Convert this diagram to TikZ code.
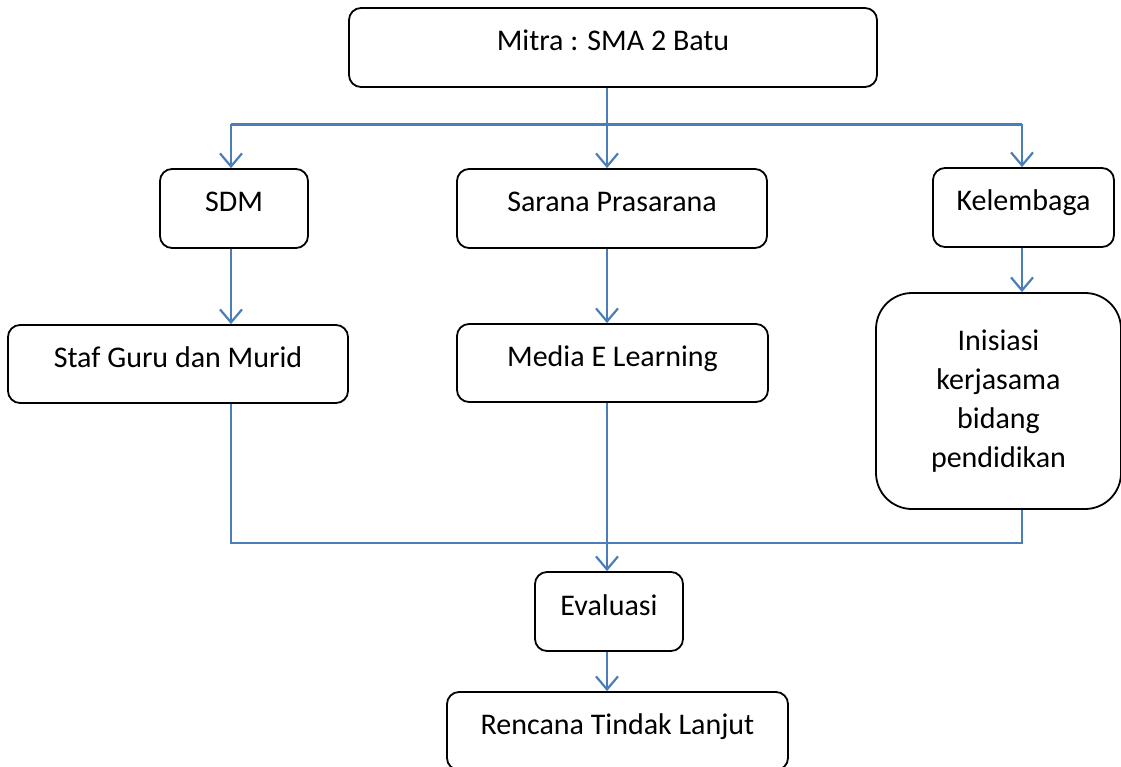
\documentclass[tikz,border=0pt]{standalone}
\usepackage{fontspec}
\setmainfont{Carlito}
\usepackage{tikz}
\usetikzlibrary{arrows.meta}
\definecolor{lineBlue}{HTML}{4A7EBB}

\tikzset{
  box/.style={draw=black, line width=1.8pt, rounded corners=12pt, inner sep=0pt,
    font=\fontsize{30}{39}\selectfont, text height=19pt, text depth=12pt},
  bigbox/.style={draw=black, line width=1.8pt, rounded corners=36pt, inner sep=0pt,
    align=center, font=\fontsize{30}{39}\selectfont},
  link/.style={draw=lineBlue, line width=2.2pt},
  arr/.style={link, -{Straight Barb[length=13pt, width=22pt, line width=2.2pt]}}
}

\begin{document}
\begin{tikzpicture}[x=1pt, y=-1pt]
    \useasboundingbox (0,0) rectangle (1121,767);
    \fill[white] (0,0) rectangle (1121,767);
    % boxes, pixel coordinates of the centres
    \node[box, minimum width=528pt, minimum height=79pt] (mitra) at (613,47.5) {Mitra : SMA 2 Batu};
    \node[box, minimum width=148pt, minimum height=79pt] (sdm) at (234,208.5) {SDM};
    \node[box, minimum width=310pt, minimum height=79pt] (sarana) at (612,208.5) {Sarana Prasarana};
    \node[box, minimum width=181pt, minimum height=79pt] (kel) at (1023.5,207.5) {Kelembaga};
    \node[box, minimum width=340pt, minimum height=78pt] (staf) at (178,364) {Staf Guru dan Murid};
    \node[box, minimum width=311pt, minimum height=78pt] (media) at (612.5,363) {Media E Learning};
    \node[bigbox, minimum width=245pt, minimum height=216pt] (inis) at (998.5,401) {Inisiasi\\kerjasama\\bidang\\pendidikan};
    \node[box, minimum width=148pt, minimum height=79pt] (eval) at (609,611.5) {Evaluasi};
    \node[box, minimum width=341pt, minimum height=78pt] (rtl) at (617.5,731) {Rencana Tindak Lanjut};
    % columns of the connectors
    \coordinate (cA) at (231,124.5);
    \coordinate (cB) at (607,124.5);
    \coordinate (cC) at (1022,124.5);
    \coordinate (bar) at (607,543);
    \draw[link] (cA) -- (cC);
    \draw[arr] (mitra.south -| cB) -- (sarana.north -| cB);
    \draw[arr] (cA) -- (sdm.north -| cA);
    \draw[arr] (cC) -- (kel.north -| cC);
    \draw[arr] (sdm.south -| cA) -- (staf.north -| cA);
    \draw[arr] (sarana.south -| cB) -- (media.north -| cB);
    \draw[arr] (kel.south -| cC) -- (inis.north -| cC);
    \draw[link] (staf.south -| cA) |- (bar -| cC) -- (inis.south -| cC);
    \draw[arr] (media.south -| cB) -- (eval.north -| cB);
    \draw[arr] (eval.south -| cB) -- (rtl.north -| cB);
\end{tikzpicture}
\end{document}
